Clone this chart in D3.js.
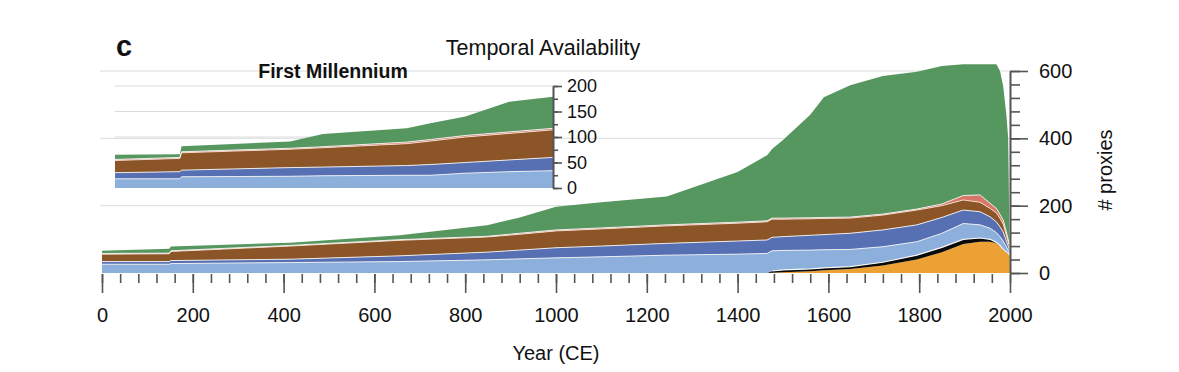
<!DOCTYPE html>
<html>
<head>
<meta charset="utf-8">
<script src="https://cdn.jsdelivr.net/npm/d3@7"></script>
<style>
  body { margin: 0; background: #fff; }
  text { font-family: "Liberation Sans", Arial, sans-serif; fill: #111; }
</style>
</head>
<body>
<div id="wrapper"></div>
<script>
// 1. Data (proxies per archive type)

const years      = [0, 148, 152, 414, 656, 848, 920, 1000, 1100, 1244, 1400, 1465, 1476, 1500, 1560, 1590, 1648, 1720, 1795, 1850, 1897, 1934, 1956, 1970, 1978, 1985, 1992, 1996, 1999, 2000]
const orange     = [0, 0, 0, 0, 0, 0, 0, 0, 0, 0, 0, 0, 1, 2, 5, 8, 12, 22, 40, 62, 86, 93, 93, 88, 80, 68, 62, 58, 52, 0]
const black      = [0, 0, 0, 0, 0, 0, 0, 0, 0, 0, 0, 0, 5, 7, 7, 7, 7, 10, 13, 14, 14, 11, 7, 3, 2, 2, 1, 1, 1, 0]
const lightBlue  = [26, 26, 28, 31, 34, 39, 42, 45, 48, 53, 56, 58, 60, 58, 56, 54, 51, 46, 40, 42, 47, 39, 33, 29, 26, 25, 15, 9, 7, 0]
const darkBlue   = [8, 8, 9, 10, 17, 23, 26, 30, 32, 35, 39, 40, 40, 41, 44, 45, 48, 50, 50, 47, 40, 39, 34, 32, 29, 27, 17, 12, 8, 0]
const brown      = [22, 23, 27, 39, 46, 45, 47, 50, 51, 52, 53, 54, 54, 52, 49, 48, 45, 44, 44, 35, 30, 28, 25, 26, 25, 23, 17, 12, 10, 0]
const pink       = [2, 2, 2, 2, 2, 2, 3, 3, 3, 3, 3, 3, 3, 3, 3, 3, 3, 3, 3, 5, 13, 22, 15, 14, 12, 12, 10, 8, 7, 0]
const green      = [8, 13, 13, 8, 13, 33, 47, 69, 76, 84, 149, 195, 205, 232, 306, 357, 392, 410, 408, 410, 390, 388, 413, 428, 426, 398, 348, 300, 15, 0]

// first millennium inset
const insetYears     = [0, 148, 152, 400, 475, 666, 720, 800, 900, 1000]
const insetLightBlue = [18, 18, 22, 23, 24, 25, 25, 29, 32, 34]
const insetDarkBlue  = [12, 14, 13, 17, 17, 19, 21, 21, 23, 26]
const insetBrown     = [24, 26, 34, 36, 38, 43, 46, 50, 52, 54]
const insetPink      = [2, 2, 2, 2, 2, 3, 3, 3, 3, 3]
const insetGreen     = [9, 6, 11, 13, 25, 27, 32, 37, 59, 62]

const xTicksMajor = d3.range(0, 2001, 200)
const xTicksMinor = d3.range(0, 2001, 40)
const yTicksMajor = [0, 200, 400, 600]
const yTicksMinor = d3.range(0, 601, 40)
const insetTicksMajor = [0, 50, 100, 150, 200]
const insetTicksMinor = d3.range(0, 201, 25)

const keys = ["orange", "black", "lightBlue", "darkBlue", "brown", "pink", "green"]
const colors = {
  orange: "#eba134",
  black: "#0a0a0a",
  lightBlue: "#8cafdc",
  darkBlue: "#5770b4",
  brown: "#8b5528",
  pink: "#d9766a",
  green: "#56965f",
}

const mainRows = years.map((y, i) => ({
  year: y, orange: orange[i], black: black[i], lightBlue: lightBlue[i],
  darkBlue: darkBlue[i], brown: brown[i], pink: pink[i], green: green[i],
}))
const insetRows = insetYears.map((y, i) => ({
  year: y, orange: 0, black: 0, lightBlue: insetLightBlue[i],
  darkBlue: insetDarkBlue[i], brown: insetBrown[i], pink: insetPink[i], green: insetGreen[i],
}))

// 2. Dimensions / canvas

const width = 1179
const height = 372

const svg = d3.select("#wrapper")
  .append("svg")
    .attr("width", width)
    .attr("height", height)

const xScale = d3.scaleLinear().domain([0, 2000]).range([102, 1010])
const yScale = d3.scaleLinear().domain([0, 600]).range([273, 71])

const insetX = d3.scaleLinear().domain([0, 1000]).range([115, 553])
const insetY = d3.scaleLinear().domain([0, 200]).range([188, 86])

// gridlines
svg.append("g")
  .selectAll("line")
  .data([200, 400, 600])
  .join("line")
    .attr("x1", 100).attr("x2", 1010)
    .attr("y1", d => yScale(d)).attr("y2", d => yScale(d))
    .attr("stroke", "#dcdcdc").attr("stroke-width", 1)

svg.append("g")
  .selectAll("line")
  .data([50, 100, 150, 200])
  .join("line")
    .attr("x1", 115).attr("x2", 553)
    .attr("y1", d => insetY(d)).attr("y2", d => insetY(d))
    .attr("stroke", "#dcdcdc").attr("stroke-width", 1)

// 3. Draw stacked areas

const stack = d3.stack().keys(keys)

function drawStack(rows, x, y) {
  const series = stack(rows)
  const g = svg.append("g")
  const area = d3.area()
    .x(d => x(d.data.year))
    .y0(d => y(d[0]))
    .y1(d => y(d[1]))
  g.selectAll("path.band")
    .data(series)
    .join("path")
      .attr("class", "band")
      .attr("fill", s => colors[s.key])
      .attr("d", area)

  // thin light separators on top of each band
  const sepKeys = ["black", "lightBlue", "darkBlue", "brown", "pink"]
  const line = d3.line()
    .defined(d => d[1] > 0)
    .x(d => x(d.data.year))
    .y(d => y(d[1]))
  g.selectAll("path.sep")
    .data(series.filter(s => sepKeys.includes(s.key)))
    .join("path")
      .attr("class", "sep")
      .attr("fill", "none")
      .attr("stroke", s => s.key === "brown" ? "#f6e0d0" : "#f4f4f4")
      .attr("stroke-width", s => s.key === "black" ? 1.2 : 0.9)
      .attr("d", line)
}

drawStack(mainRows, xScale, yScale)
drawStack(insetRows, insetX, insetY)

// 4. Axes

const fmt = d3.format("d")

function styleAxis(g, showText) {
  g.selectAll("line").attr("stroke", "#555").attr("stroke-width", 1.6)
  g.selectAll("path.domain").attr("stroke", "#555").attr("stroke-width", 1.6)
  if (!showText) g.selectAll("text").remove()
}

// bottom axis
const xMinor = svg.append("g")
    .attr("transform", "translate(0, 274)")
    .call(d3.axisBottom(xScale).tickValues(xTicksMinor).tickSize(9).tickSizeOuter(0))
xMinor.select(".domain").remove()
styleAxis(xMinor, false)

const xMajor = svg.append("g")
    .attr("transform", "translate(0, 274)")
    .call(d3.axisBottom(xScale).tickValues(xTicksMajor).tickFormat(fmt)
      .tickSize(19).tickPadding(15).tickSizeOuter(0))
xMajor.select(".domain").remove()
styleAxis(xMajor, true)
xMajor.selectAll("text").attr("font-size", 20).attr("fill", "#111")

// right axis
const yMinor = svg.append("g")
    .attr("transform", "translate(1010, 0)")
    .call(d3.axisRight(yScale).tickValues(yTicksMinor).tickSize(10).tickSizeOuter(0))
styleAxis(yMinor, false)

const yMajor = svg.append("g")
    .attr("transform", "translate(1010, 0)")
    .call(d3.axisRight(yScale).tickValues(yTicksMajor).tickFormat(fmt)
      .tickSize(18).tickPadding(11).tickSizeOuter(0))
styleAxis(yMajor, true)
yMajor.selectAll("text").attr("font-size", 20).attr("fill", "#111")

// inset axis
const iMinor = svg.append("g")
    .attr("transform", "translate(553, 0)")
    .call(d3.axisRight(insetY).tickValues(insetTicksMinor).tickSize(5).tickSizeOuter(0))
styleAxis(iMinor, false)

const iMajor = svg.append("g")
    .attr("transform", "translate(553, 0)")
    .call(d3.axisRight(insetY).tickValues(insetTicksMajor).tickFormat(fmt)
      .tickSize(9).tickPadding(5).tickSizeOuter(0))
styleAxis(iMajor, true)
iMajor.selectAll("text").attr("font-size", 18).attr("fill", "#111")

// 5. Labels

svg.append("text")
    .attr("x", 556).attr("y", 360)
    .attr("text-anchor", "middle")
    .attr("font-size", 20)
    .text("Year (CE)")

svg.append("text")
    .attr("transform", "translate(1112, 170) rotate(-90)")
    .attr("text-anchor", "middle")
    .attr("font-size", 20)
    .text("# proxies")

svg.append("text")
    .attr("x", 543).attr("y", 55)
    .attr("text-anchor", "middle")
    .attr("font-size", 21.5)
    .text("Temporal Availability")

svg.append("text")
    .attr("x", 333).attr("y", 78)
    .attr("text-anchor", "middle")
    .attr("font-size", 19.5)
    .attr("font-weight", "bold")
    .text("First Millennium")

svg.append("text")
    .attr("x", 116).attr("y", 56)
    .attr("font-size", 29)
    .attr("font-weight", 900)
    .text("c")
</script>
</body>
</html>
